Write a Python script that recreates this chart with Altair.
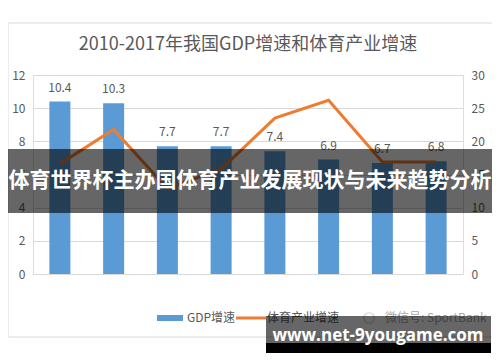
import altair as alt
import pandas as pd

years = ["2010", "2011", "2012", "2013", "2014", "2015", "2016", "2017"]
gdp_growth = [10.4, 10.3, 7.7, 7.7, 7.4, 6.9, 6.7, 6.8]
sport_growth = [16.6, 21.8, 12.9, 15.8, 23.5, 26.2, 16.9, 16.9]

title_text = "2010-2017年我国GDP增速和体育产业增速"
banner_text = "体育世界杯主办国体育产业发展现状与未来趋势分析"
site_text = "www.net-9yougame.com"
legend_gdp = "GDP增速"
legend_sport = "体育产业增速"
legend_wechat = "微信号: SportBank"

FONT = "Noto Sans CJK SC"
GRAY = "#595959"
BLUE = "#5B9BD5"
ORANGE = "#ED7D31"

df = pd.DataFrame({"year": years, "gdp": gdp_growth, "sport": sport_growth})
one = pd.DataFrame({"k": [0]})

band = alt.Scale(paddingInner=0, paddingOuter=0)

x_enc = alt.X("year:N", sort=years, title=None, scale=band,
              axis=alt.Axis(labelAngle=0, domain=False, ticks=False, labelFont=FONT,
                            labelFontSize=11, labelColor=GRAY, labelPadding=9, grid=False))

frame = alt.Chart(one).mark_rect(fillOpacity=0, stroke="#D9D9D9", strokeWidth=1).encode(
    x=alt.value(-25), x2=alt.value(460), y=alt.value(-52), y2=alt.value(262))

bars = alt.Chart(df).mark_bar(color=BLUE, size=21).encode(
    x=x_enc,
    y=alt.Y("gdp:Q", title=None, scale=alt.Scale(domain=[0, 12]),
            axis=alt.Axis(values=[0, 2, 4, 6, 8, 10, 12], domain=False, ticks=False,
                          labelFont=FONT, labelFontSize=12, labelColor=GRAY, labelPadding=8,
                          gridColor="#D9D9D9", gridWidth=1)))

labels = alt.Chart(df).mark_text(baseline="bottom", dy=-7, font=FONT, fontSize=12, color=GRAY).encode(
    x=alt.X("year:N", sort=years, axis=None, scale=band),
    y=alt.Y("gdp:Q", scale=alt.Scale(domain=[0, 12]), axis=None),
    text=alt.Text("gdp:Q", format=".1f"))

line = alt.Chart(df).mark_line(color=ORANGE, strokeWidth=3).encode(
    x=alt.X("year:N", sort=years, axis=None, scale=band),
    y=alt.Y("sport:Q", title=None, scale=alt.Scale(domain=[0, 30]),
            axis=alt.Axis(orient="right", values=[0, 5, 10, 15, 20, 25, 30], domain=False,
                          ticks=False, grid=False, labelFont=FONT, labelFontSize=12,
                          labelColor=GRAY, labelPadding=8)))

title = alt.Chart(one).mark_text(text=title_text, font=FONT, fontSize=18, color=GRAY,
                                  align="center", baseline="middle").encode(
    x=alt.value(215), y=alt.value(-30))

leg_rect = alt.Chart(one).mark_rect(color=BLUE).encode(
    x=alt.value(124), x2=alt.value(150), y=alt.value(240), y2=alt.value(246))
leg_t1 = alt.Chart(one).mark_text(text=legend_gdp, font=FONT, fontSize=12, color=GRAY,
                                   align="left", baseline="middle").encode(
    x=alt.value(154), y=alt.value(243))
leg_line = alt.Chart(one).mark_rule(color=ORANGE, strokeWidth=3).encode(
    x=alt.value(203), x2=alt.value(233), y=alt.value(243))
leg_t2 = alt.Chart(one).mark_text(text=legend_sport, font=FONT, fontSize=12, color=GRAY,
                                   align="left", baseline="middle").encode(
    x=alt.value(234), y=alt.value(243))
leg_icon = alt.Chart(one).mark_point(shape="circle", size=110, color="#BFBFBF", strokeWidth=1.2).encode(
    x=alt.value(336), y=alt.value(243))
leg_t3 = alt.Chart(one).mark_text(text=legend_wechat, font=FONT, fontSize=12, color="#A6A6A6",
                                   align="left", baseline="middle").encode(
    x=alt.value(352), y=alt.value(243))

banner = alt.Chart(one).mark_rect(color="black", opacity=0.6).encode(
    x=alt.value(-25), x2=alt.value(459), y=alt.value(74), y2=alt.value(138))
banner_t = alt.Chart(one).mark_text(text=banner_text, font=FONT, fontSize=21, fontWeight="bold",
                                     color="white", align="center", baseline="middle").encode(
    x=alt.value(217), y=alt.value(106))

site_box = alt.Chart(one).mark_rect(color="black", opacity=0.6).encode(
    x=alt.value(233), x2=alt.value(458), y=alt.value(241), y2=alt.value(268))
site_box2 = alt.Chart(one).mark_rect(color="black").encode(
    x=alt.value(233), x2=alt.value(458), y=alt.value(268), y2=alt.value(278))
site_t = alt.Chart(one).mark_text(text=site_text, font="Open Sans", fontSize=17, fontWeight="bold",
                                   color="white", align="center", baseline="middle").encode(
    x=alt.value(345), y=alt.value(261))

chart = alt.layer(
    frame, bars, labels, line, title,
    leg_rect, leg_t1, leg_line, leg_t2, leg_icon, leg_t3,
    banner, banner_t, site_box, site_box2, site_t
).resolve_scale(y="independent").properties(
    width=430, height=199,
    autosize=alt.AutoSizeParams(type="none"),
    padding={"left": 25, "top": 67, "right": 29, "bottom": 80},
).configure_view(stroke=None).configure(background="white")

chart.save("out.html", embed_options={"renderer": "svg", "actions": False})
